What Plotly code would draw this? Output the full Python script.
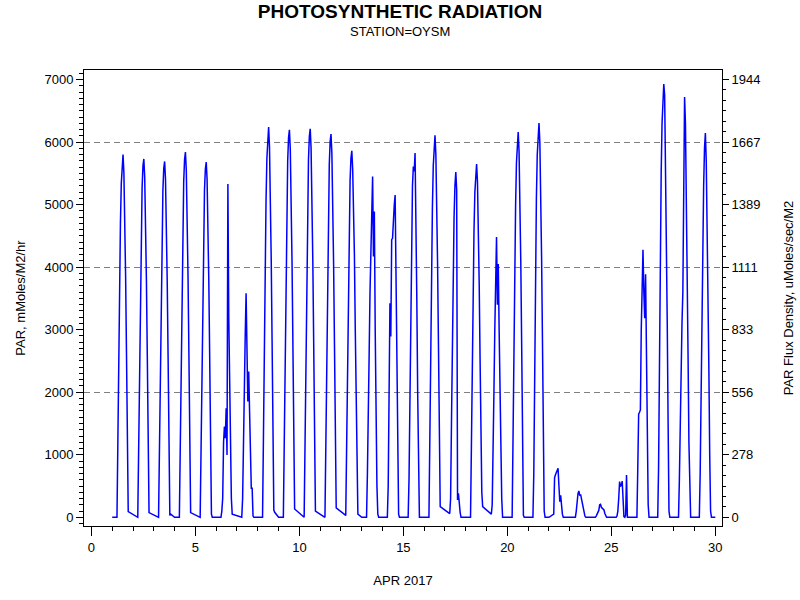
import plotly.graph_objects as go

# Hours of the day at which each daily row is sampled (local time)
HOURS = [0.0, 5.5, 6.5, 7.5, 8.5, 9.5, 10.5, 11.5, 12.5, 13.5, 14.5, 15.5, 16.5, 17.5, 18.5, 19.5, 24.0]
N = None  # missing reading

# PAR (mMoles/M2/hr), one row per day of April 2017
d01 = [0, 0, 1160, 2550, 3770, 4700, 5340, 5680, 5800, 5510, 4810, 3830, 2610, 1280, 90, N, N]
d02 = [N, 0, 1150, 2520, 3720, 4640, 5270, 5620, 5730, 5440, 4760, 3780, 2580, 1260, 75, N, N]
d03 = [N, 0, 1140, 2500, 3700, 4610, 5230, 5580, 5690, 5410, 4720, 3760, 2560, 1250, 30, 50, 0]
d04 = [0, 0, 1170, 2570, 3800, 4730, 5370, 5720, 5840, 5550, 4850, 3850, 2630, 1280, 75, N, N]
d05 = [N, 0, 1140, 2500, 3690, 4600, 5230, 5570, 5680, 5400, 4710, 3750, 2560, 1250, 50, 0, 0]
d06 = [0, 0, 100, 300, 1200, 1450, 1264, 1744, 997, 5328, 3200, 2000, 900, 300, 50, N, N]
d07 = [N, 0, 300, 1500, 2200, 2900, 3584, 2700, 1850, 2330, 1830, 1100, 464, 464, 20, 0, 0]
d08 = [0, 0, 1250, 2750, 4060, 5050, 5740, 6120, 6240, 5930, 5180, 4120, 2810, 1370, 117, 80, 0]
d09 = [0, 0, 1240, 2730, 4030, 5020, 5700, 6070, 6197, 5890, 5140, 4090, 2790, 1360, 133, N, N]
d10 = [N, 0, 1240, 2730, 4040, 5030, 5720, 6090, 6213, 5900, 5160, 4100, 2800, 1370, 100, N, N]
d11 = [N, 0, 1230, 2700, 3980, 4960, 5640, 6010, 6128, 5820, 5090, 4040, 2760, 1350, 150, N, N]
d12 = [N, 30, 1170, 2580, 3810, 4750, 5390, 5740, 5861, 5570, 5000, 4200, 3000, 1700, 600, 50, 0]
d13 = [0, 0, 700, 1450, 2600, 3600, 4400, 5100, 5450, 4170, 4890, 3000, 1500, 500, 50, 0, 0]
d14 = [0, 0, 500, 1800, 3424, 2890, 4440, 4460, 4800, 5000, 5152, 3600, 2000, 700, 50, 0, 0]
d15 = [0, 0, 600, 1800, 3000, 4300, 5300, 5610, 5530, 5824, 4900, 3500, 2000, 700, 0, 0, 0]
d16 = [0, 0, 1220, 2690, 3970, 4950, 5620, 5990, 6107, 5800, 5070, 4030, 2750, 1340, 170, N, N]
d17 = [N, 60, 300, 1500, 2900, 4000, 4800, 5300, 5520, 5237, 277, 384, 200, 80, 0, 0, 0]
d18 = [0, 0, 1130, 2490, 3670, 4580, 5200, 5540, 5648, 5370, 4690, 3730, 2540, 1240, 400, 170, N]
d19 = [N, 50, 200, 900, 2000, 3000, 3800, 4480, 3400, 4048, 3000, 2000, 1000, 300, 0, 0, 0]
d20 = [0, 0, 1230, 2710, 4000, 4990, 5670, 6040, 6160, 5850, 5110, 4070, 2770, 1350, 30, 0, 0]
d21 = [0, 0, 700, 2600, 4000, 5110, 5800, 6180, 6304, 5990, 5230, 4160, 2840, 1390, 100, 0, 0]
d22 = [0, 50, 634, 680, 720, 750, 784, 500, 250, 350, 150, 50, 0, 0, 0, 0, 0]
d23 = [0, 0, 0, 100, 250, 380, 421, 346, 368, 300, 200, 117, 60, 20, 0, 0, 0]
d24 = [0, 0, 20, 50, 80, 110, 200, 208, 160, 150, 130, 117, 60, 20, 0, 0, 0]
d25 = [0, 0, 20, 100, 300, 570, 500, 507, 580, 300, 10, 0, 30, 677, 0, 0, 0]
d26 = [0, 0, 800, 1650, 1680, 1717, 3000, 4000, 4277, 3600, 3184, 3888, 2300, 1000, 200, 0, 0]
d27 = [0, 0, 800, 2700, 4300, 5500, 6300, 6750, 6928, 6750, 5800, 4600, 3100, 1500, 100, 0, 0]
d28 = [0, 0, 600, 1700, 2600, 3100, 3600, 5600, 6720, 6300, 5300, 4000, 2600, 1200, 200, 0, 0]
d29 = [0, 0, 700, 2000, 3300, 4400, 5300, 5900, 6144, 5700, 4800, 3700, 2400, 1000, 100, 0, 0]

DAYS = [d01, d02, d03, d04, d05, d06, d07, d08, d09, d10, d11, d12, d13, d14, d15,
        d16, d17, d18, d19, d20, d21, d22, d23, d24, d25, d26, d27, d28, d29]

X_TICKS = [0, 5, 10, 15, 20, 25, 30]
Y_TICKS = [0, 1000, 2000, 3000, 4000, 5000, 6000, 7000]
GRID_VALUES = [2000, 4000, 6000]
UMOL_PER_MMOL_HR = 1 / 3.6  # mMoles/M2/hr -> uMoles/sec/M2

# flatten to a time series (day of month as fractional day)
xs, ys = [], []
for day, row in enumerate(DAYS, start=1):
    for h, v in zip(HOURS, row):
        xs.append(day + h / 24.0)
        ys.append(v)

Y_RANGE = [-139, 7152]
X_RANGE = [-0.356, 30.32]
FONT = "Liberation Sans, Arial, Helvetica, sans-serif"

fig = go.Figure()
# placeholder traces so the secondary axes (right scale and grid) are drawn
fig.add_trace(go.Scatter(x=[None], y=[None], yaxis="y3", mode="lines",
                         showlegend=False, hoverinfo="skip"))
fig.add_trace(go.Scatter(x=[None], y=[None], yaxis="y2", mode="lines",
                         showlegend=False, hoverinfo="skip"))
fig.add_trace(go.Scatter(x=xs, y=ys, mode="lines", connectgaps=True,
                         line=dict(color="#0000FF", width=1.5),
                         showlegend=False, hoverinfo="x+y"))

fig.update_layout(
    width=800, height=600,
    margin=dict(l=84, r=78, t=70, b=74, autoexpand=False),
    paper_bgcolor="white", plot_bgcolor="white",
    font=dict(family=FONT, size=13, color="black"),
    title=dict(text="<b>PHOTOSYNTHETIC RADIATION</b>", x=0.5, xref="container",
               xanchor="center", y=1 - 11 / 600, yanchor="middle",
               font=dict(family=FONT, size=19, color="black")),
    annotations=[dict(text="STATION=OYSM", xref="paper", yref="paper",
                      x=(400 - 84) / 638, y=(526 - 31) / 456,
                      xanchor="center", yanchor="middle", showarrow=False,
                      font=dict(family=FONT, size=13, color="black"))],
    xaxis=dict(range=X_RANGE, tickvals=X_TICKS, ticks="outside", ticklen=9,
               tickcolor="black", showline=True, linecolor="black", linewidth=1,
               mirror=True, showgrid=False, zeroline=False, automargin=False,
               minor=dict(dtick=1, tick0=0, ticks="outside", ticklen=4, tickcolor="black", showgrid=False),
               title=dict(text="APR 2017", standoff=22, font=dict(size=13))),
    yaxis=dict(range=Y_RANGE, tickvals=Y_TICKS, ticks="outside", ticklen=7,
               tickcolor="black", showline=True, linecolor="black", linewidth=1,
               showgrid=False, zeroline=False, automargin=False,
               minor=dict(dtick=100, tick0=0, ticks="outside", ticklen=4, tickcolor="black", showgrid=False),
               title=dict(text="PAR, mMoles/M2/hr", standoff=15, font=dict(size=13))),
    yaxis2=dict(range=[Y_RANGE[0] * UMOL_PER_MMOL_HR, Y_RANGE[1] * UMOL_PER_MMOL_HR],
                overlaying="y", side="right", anchor="x", automargin=False,
                tickmode="linear", tick0=0, dtick=1000 * UMOL_PER_MMOL_HR, tickformat=".0f",
                ticks="outside", ticklen=6, tickcolor="black",
                showline=True, linecolor="black", linewidth=1,
                showgrid=False, zeroline=False,
                minor=dict(dtick=1000 * UMOL_PER_MMOL_HR / 6, tick0=0, ticks="outside",
                           ticklen=3, tickcolor="black", showgrid=False),
                title=dict(text="PAR Flux Density, uMoles/sec/M2", standoff=24, font=dict(size=13))),
    yaxis3=dict(range=Y_RANGE, overlaying="y", side="left", anchor="x", automargin=False,
                tickvals=GRID_VALUES, showticklabels=False, ticks="",
                showgrid=True, gridcolor="#808080", gridwidth=1, griddash="6px,4px",
                showline=False, zeroline=False),
)

fig.write_html("out.html", config={"displayModeBar": False},
               post_script="document.body.style.margin='0';")
